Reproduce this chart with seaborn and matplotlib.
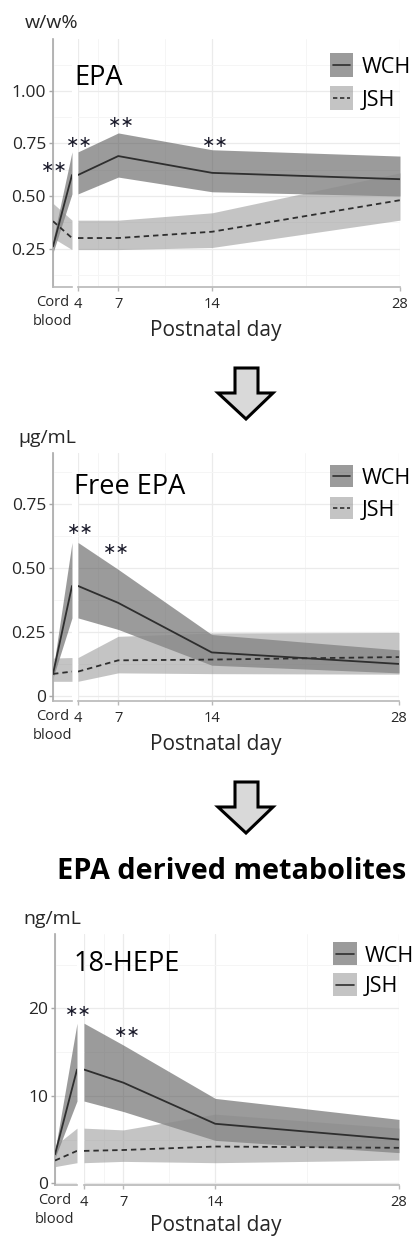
import pandas as pd
import seaborn as sns
import matplotlib.pyplot as plt
from matplotlib.patches import Rectangle, Polygon
from matplotlib.lines import Line2D

# x positions: cord blood first, then postnatal days
days = [4, 7, 14, 28]
day_labels = ["4", "7", "14", "28"]
groups = ["WCH", "JSH"]

# EPA (w/w%), first value = cord blood
epa_wch = [0.26, 0.60, 0.69, 0.61, 0.58]
epa_wch_lo = [0.23, 0.51, 0.59, 0.52, 0.50]
epa_wch_hi = [0.29, 0.71, 0.80, 0.72, 0.69]
epa_jsh = [0.38, 0.30, 0.30, 0.33, 0.48]
epa_jsh_lo = [0.30, 0.245, 0.245, 0.255, 0.385]
epa_jsh_hi = [0.465, 0.385, 0.385, 0.42, 0.61]

# free EPA (ug/mL)
free_wch = [0.086, 0.43, 0.364, 0.17, 0.125]
free_wch_lo = [0.07, 0.305, 0.26, 0.12, 0.09]
free_wch_hi = [0.10, 0.60, 0.495, 0.24, 0.18]
free_jsh = [0.086, 0.095, 0.139, 0.142, 0.152]
free_jsh_lo = [0.057, 0.057, 0.09, 0.087, 0.085]
free_jsh_hi = [0.148, 0.15, 0.233, 0.246, 0.248]

# 18-HEPE (ng/mL)
hepe_wch = [3.3, 13.0, 11.5, 6.8, 5.0]
hepe_wch_lo = [2.9, 9.4, 8.2, 4.9, 3.5]
hepe_wch_hi = [3.7, 18.3, 15.8, 9.7, 7.3]
hepe_jsh = [2.6, 3.7, 3.8, 4.2, 4.05]
hepe_jsh_lo = [1.9, 2.35, 2.5, 2.35, 2.65]
hepe_jsh_hi = [4.3, 6.3, 6.1, 7.9, 6.3]

sns.set_theme(style="white")
FONT = ["Open Sans", "DejaVu Sans"]
plt.rcParams["font.family"] = FONT

W, H = 414, 1238
fig = plt.figure(figsize=(W / 100, H / 100), dpi=100)

fill = {"WCH": ("#4a4a4a", 0.55), "JSH": ("#8a8a8a", 0.5)}
line_col = "#2e2e2e"
txt_col = "#262626"


def px_axes(x0, x1, y0, y1):
    return fig.add_axes([x0 / W, 1 - y1 / H, (x1 - x0) / W, (y1 - y0) / H])


def fx(x):
    return x / W


def fy(y):
    return 1 - y / H


def legend_box(x0, y0, w, h, gap, text_x, dashed):
    # hand-made legend: grey box with a line through it, label at the right
    for k, g in enumerate(groups):
        top = y0 + k * (h + gap)
        c, a = fill[g]
        fig.add_artist(Rectangle((fx(x0), fy(top + h)), w / W, h / H, facecolor=c,
                                 alpha=a, lw=0, transform=fig.transFigure))
        ls = (0, (2.6, 1.6)) if (g == "JSH" and dashed) else "-"
        fig.add_artist(Line2D([fx(x0 + 3), fx(x0 + w - 3)], [fy(top + h / 2)] * 2,
                              color=line_col, lw=1.2, ls=ls, transform=fig.transFigure))
        fig.text(fx(text_x), fy(top + h / 2), g, fontsize=15.5, color="black",
                 va="center_baseline", ha="left")


def draw_panel(box, ylim, yticks, ylabels, yminor, series, unit, unit_x, name, stars,
               texts_y, leg):
    xs0, xs1, xm0, xm1, top, bot = box
    ax_s = px_axes(xs0, xs1, top, bot)
    ax_m = px_axes(xm0, xm1, top, bot)

    rows = []
    for g, (m, lo, hi) in series.items():
        for i in range(5):
            rows.append({"group": g, "i": i, "y": m[i], "lo": lo[i], "hi": hi[i]})
    df = pd.DataFrame(rows)
    small = df[df["i"] <= 1].copy()
    small["x"] = small["i"]
    main = df[df["i"] >= 1].copy()
    main["x"] = [days[i - 1] for i in main["i"]]

    for ax, d in [(ax_s, small), (ax_m, main)]:
        for g in groups:
            s = d[d["group"] == g]
            c, a = fill[g]
            ax.fill_between(s["x"], s["lo"], s["hi"], color=c, alpha=a, lw=0, zorder=2)
        sns.lineplot(data=d, x="x", y="y", hue="group", style="group",
                     palette={"WCH": line_col, "JSH": line_col},
                     dashes={"WCH": "", "JSH": (3, 2.2)}, hue_order=groups,
                     legend=False, ax=ax, lw=1.3, sort=False, zorder=3)
        ax.set_ylim(*ylim)
        ax.set_yticks(yticks)
        ax.set_yticks(yminor, minor=True)
        ax.grid(which="major", color="#ebebeb", lw=0.9)
        ax.grid(which="minor", color="#f5f5f5", lw=0.7)
        ax.set_axisbelow(True)
        ax.set_xlabel("")
        ax.set_ylabel("")
        for sp in ["top", "right"]:
            ax.spines[sp].set_visible(False)
        ax.spines["bottom"].set_color("#b8b8b8")
        ax.spines["bottom"].set_linewidth(1.2)

    ax_s.set_xlim(0, 1)
    ax_s.set_xticks([0])
    ax_s.set_xticklabels(["Cord\nblood"])
    ax_s.set_xticks([], minor=True)
    ax_s.set_yticklabels(ylabels)
    ax_s.spines["left"].set_color("#a8a8a8")
    ax_s.spines["left"].set_linewidth(1.2)
    ax_s.tick_params(axis="x", length=0, pad=6, labelsize=10.5, labelcolor=txt_col)
    ax_s.tick_params(axis="y", which="major", length=3, width=1, color="#a8a8a8",
                     pad=2, labelsize=12.5, labelcolor=txt_col, left=True)
    ax_s.tick_params(axis="y", which="minor", length=0)
    for lbl in ax_s.get_xticklabels():
        lbl.set_linespacing(1.35)

    ax_m.set_xlim(4, 28)
    ax_m.set_xticks(days)
    ax_m.set_xticklabels(day_labels)
    ax_m.set_xticks([5.5, 10.5, 21], minor=True)
    ax_m.spines["left"].set_visible(False)
    ax_m.tick_params(axis="y", which="both", length=0, labelleft=False)
    ax_m.tick_params(axis="x", which="major", length=3, width=1, color="#b8b8b8",
                     pad=4, labelsize=10.5, labelcolor=txt_col, bottom=True)
    ax_m.tick_params(axis="x", which="minor", length=0)

    # significance marks
    for which, x, y in stars:
        ax = ax_s if which == "s" else ax_m
        ax.text(x, y, "\u2217\u2217", ha="center", va="center", fontsize=11.5,
                color="#1a1a2a", family="DejaVu Sans", clip_on=False, zorder=5)

    unit_y, name_y, xlab_y = texts_y
    fig.text(fx(unit_x), fy(unit_y), unit, fontsize=14, color=txt_col, va="baseline")
    fig.text(fx(74), fy(name_y), name, fontsize=19.5, color="black", va="baseline")
    fig.text(fx(216), fy(xlab_y), "Postnatal day", fontsize=15, color=txt_col,
             ha="center", va="baseline")

    legend_box(*leg)


draw_panel((53, 72, 78, 400, 39, 287), (0.067, 1.247), [0.25, 0.5, 0.75, 1.0],
           ["0.25", "0.50", "0.75", "1.00"], [0.125, 0.375, 0.625, 0.875, 1.125],
           {"WCH": (epa_wch, epa_wch_lo, epa_wch_hi), "JSH": (epa_jsh, epa_jsh_lo, epa_jsh_hi)},
           "w/w%", 25, "EPA",
           [("s", 0.05, 0.637), ("m", 4.1, 0.753), ("m", 7.2, 0.848), ("m", 14.2, 0.753)],
           (28, 85, 336), (330, 53, 23, 24, 9, 362, True))

draw_panel((53, 72, 78, 399, 453, 701), (-0.02, 0.95), [0, 0.25, 0.5, 0.75],
           ["0", "0.25", "0.50", "0.75"], [0.125, 0.375, 0.625, 0.875],
           {"WCH": (free_wch, free_wch_lo, free_wch_hi), "JSH": (free_jsh, free_jsh_lo, free_jsh_hi)},
           "\u00b5g/mL", 18, "Free EPA",
           [("m", 4.15, 0.652), ("m", 6.9, 0.571)],
           (443, 494, 750), (330, 465, 23, 22, 10, 362, True))

draw_panel((55, 77, 84, 399, 934, 1185), (-0.2, 28.5), [0, 10, 20],
           ["0", "10", "20"], [5, 15, 25],
           {"WCH": (hepe_wch, hepe_wch_lo, hepe_wch_hi), "JSH": (hepe_jsh, hepe_jsh_lo, hepe_jsh_hi)},
           "ng/mL", 23, "18-HEPE",
           [("m", 3.6, 19.6), ("m", 7.3, 17.2)],
           (924, 971, 1231), (333, 942, 24, 23, 8, 365, False))

fig.text(fx(232), fy(879), "EPA derived metabolites", fontsize=20.8, fontweight="bold",
         color="black", ha="center", va="baseline")

# block arrows between panels
for top in [368, 782]:
    pts = [(235, top), (258, top), (258, top + 25), (273, top + 25), (246, top + 51),
           (218, top + 25), (235, top + 25)]
    fig.add_artist(Polygon([(fx(x), fy(y)) for x, y in pts], closed=True,
                           facecolor="#d9d9d9", edgecolor="black", lw=2.2,
                           joinstyle="miter", transform=fig.transFigure))

fig.savefig("out.png", dpi=100)
